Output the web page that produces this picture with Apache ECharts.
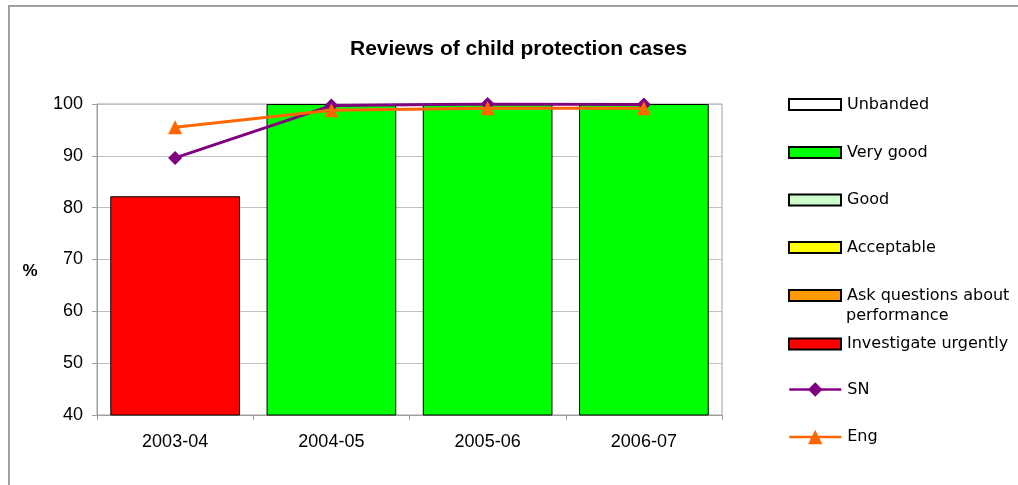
<!DOCTYPE html>
<html><head><meta charset="utf-8">
<script src="https://cdn.jsdelivr.net/npm/echarts@6/dist/echarts.min.js"></script>
<style>html,body{margin:0;padding:0;background:#fff}#c{width:1018px;height:485px}</style>
</head><body><div id="c"></div>
<script>
const categories = ['2003-04','2004-05','2005-06','2006-07'];
const unbanded = [null,null,null,null];
const veryGood = [null,100,100,100];
const good = [null,null,null,null];
const acceptable = [null,null,null,null];
const askQuestions = [null,null,null,null];
const investigate = [82.2,null,null,null];
const sn = [89.6,99.7,100.0,99.9];
const eng = [95.5,98.8,99.2,99.2];
const yTicks = {min:40,max:100,interval:10};

const bandNames = ['Unbanded','Very good','Good','Acceptable','Ask questions about performance','Investigate urgently'];
const bandData = [unbanded,veryGood,good,acceptable,askQuestions,investigate];
const bandColors = ['#ffffff','#00ff00','#ccffcc','#ffff00','#ff9900','#ff0000'];

const series = bandNames.map((n,i)=>({
  name:n, type:'bar', stack:'band', data:bandData[i], barCategoryGap:'17%',
  itemStyle:{color:bandColors[i], borderColor:'#000', borderWidth:1}
}));
series.push({name:'SN', type:'line', data:sn, symbol:'diamond', symbolSize:14,
  lineStyle:{color:'#800080',width:3}, itemStyle:{color:'#800080'}, z:5});
series.push({name:'Eng', type:'line', data:eng, symbol:'triangle', symbolSize:14,
  lineStyle:{color:'#ff6600',width:3}, itemStyle:{color:'#ff6600'}, z:6});

const legendCenters = [102,150,197.5,245,293,341.5,390.5,438];
const legendNames = bandNames.concat(['SN','Eng']);
const legends = legendNames.map((n,i)=>{
  const isLine = i>=6;
  const ih = isLine ? 18 : 11;
  const l = {
    data:[n], left:788, top:legendCenters[i]-ih/2, padding:0, itemWidth:52, itemHeight:ih, itemGap:0,
    selectedMode:false,
    textStyle:{fontFamily:'DejaVu Sans', fontSize:16, color:'#000', padding:[0,0,0,1]},
    formatter: n==='Ask questions about performance' ? ()=>'Ask questions about' : undefined
  };
  if(!isLine) l.icon = 'rect';
  else l.lineStyle = {width:2.5};
  return l;
});

const chart = echarts.init(document.getElementById('c'));
chart.setOption({
  animation:false,
  title:{text:'Reviews of child protection cases', left:350, top:39, padding:0,
    textStyle:{fontFamily:'Liberation Sans', fontWeight:'bold', fontSize:21, color:'#000'}},
  legend:legends,
  grid:{left:97, top:104, width:625, height:311, show:true, borderColor:'#a0a0a0', borderWidth:1, containLabel:false},
  xAxis:{type:'category', data:categories,
    axisLine:{lineStyle:{color:'#a0a0a0'}},
    axisTick:{show:true, length:5, lineStyle:{color:'#a0a0a0'}, alignWithLabel:false},
    axisLabel:{fontFamily:'Liberation Sans', fontSize:18, color:'#000', margin:18}},
  yAxis:{type:'value', min:yTicks.min, max:yTicks.max, interval:yTicks.interval,
    axisLine:{show:true, lineStyle:{color:'#a0a0a0'}},
    axisTick:{show:true, length:5, lineStyle:{color:'#a0a0a0'}},
    splitLine:{lineStyle:{color:'#c0c0c0'}},
    axisLabel:{fontFamily:'Liberation Sans', fontSize:18, color:'#000', margin:14}},
  graphic:[
    {type:'rect', shape:{x:9, y:6, width:1030, height:510}, style:{fill:'none', stroke:'#a0a0a0', lineWidth:2}, silent:true, z:-10},
    {type:'text', x:846, y:316, style:{text:'performance', font:'16px "DejaVu Sans"', fill:'#000', verticalAlign:'middle'}},
    {type:'text', x:30, y:271, style:{text:'%', font:'bold 17px "Liberation Sans"', fill:'#000', align:'center', verticalAlign:'middle'}}
  ],
  series:series
});
</script></body></html>
